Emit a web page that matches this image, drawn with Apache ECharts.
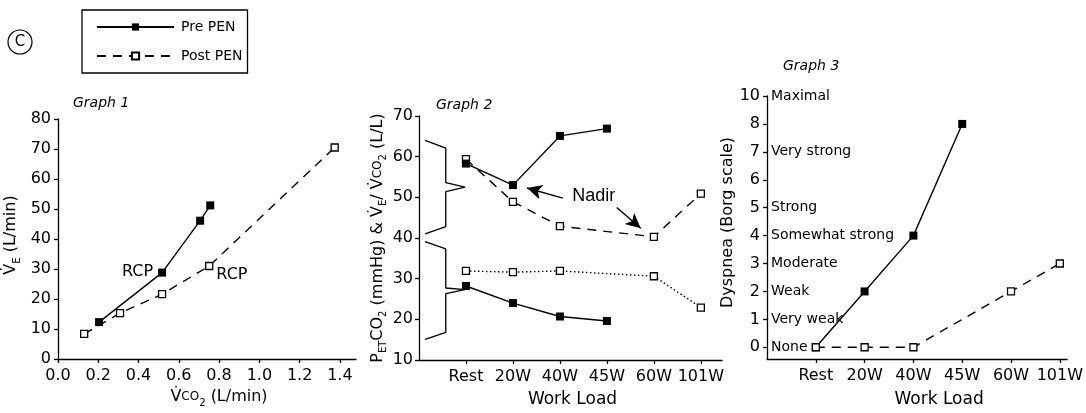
<!DOCTYPE html>
<html>
<head>
<meta charset="utf-8">
<script src="https://cdn.jsdelivr.net/npm/echarts@6/dist/echarts.min.js"></script>
<style>
  html, body { margin: 0; padding: 0; background: #fff; }
  #main { width: 1086px; height: 413px; }
</style>
</head>
<body>
<div id="main"></div>
<script>
// graph 1: VE against VCO2
var g1PreX = [0.204, 0.517, 0.706, 0.756];
var g1PreY = [12.3, 28.8, 46.1, 51.2];
var g1PostX = [0.130, 0.308, 0.517, 0.751, 1.374];
var g1PostY = [8.4, 15.3, 21.6, 31.0, 70.5];
var g1XTicks = [0, 0.2, 0.4, 0.6, 0.8, 1.0, 1.2, 1.4];

// graph 2 / 3: work loads
var loads = ['Rest', '20W', '40W', '45W', '60W', '101W'];
var preLoads = [0, 1, 2, 3];
var postLoads = [0, 1, 2, 4, 5];
var g2PreVent = [58.3, 53.0, 65.1, 66.9];
var g2PostVent = [59.4, 48.9, 42.9, 40.3, 50.9];
var g2PrePet = [28.2, 24.0, 20.7, 19.6];
var g2PostPet = [31.9, 31.6, 31.9, 30.6, 22.9];

// graph 3: borg scale (position 9 carries the "10" mark)
var g3Pre = [0, 2, 4, 8];
var g3Post = [0, 0, 0, 2, 3];
var borgTickPos = [0, 1, 2, 3, 4, 5, 6, 7, 8, 9];
var borgTickText = ['0', '1', '2', '3', '4', '5', '6', '7', '8', '10'];
var borgWordPos = [0, 1, 2, 3, 4, 5, 7, 9];
var borgWords = ['None', 'Very weak', 'Weak', 'Moderate', 'Somewhat strong', 'Strong', 'Very strong', 'Maximal'];

// annotations of graph 2 (data coords)
var braceUpper = [[0.13, 64.0], [0.57, 62.1], [0.57, 53.6], [0.98, 52.5], [0.57, 51.4], [0.57, 42.8], [0.13, 41.0]];
var braceLower = [[0.13, 39.1], [0.57, 37.3], [0.57, 27.7], [0.98, 27.3], [0.57, 26.3], [0.57, 16.8], [0.13, 15.1]];
var nadirArrows = [[[3.06, 49.8], [2.30, 52.3]], [[4.21, 47.5], [4.72, 42.4]]];
var nadirText = [3.72, 50.3];

var FONT = 'DejaVu Sans';
var chart = echarts.init(document.getElementById('main'));

function zip(xs, ys) { return xs.map(function (x, i) { return [x, ys[i]]; }); }
function onLoads(idx, ys) { return idx.map(function (k, i) { return [k + 1, ys[i]]; }); }

var rich = {
  a: { fontSize: 16, fontFamily: FONT, lineHeight: 22, color: '#000' },
  c: { fontSize: 12, fontFamily: FONT, lineHeight: 22, color: '#000' },
  s: { fontSize: 10, fontFamily: FONT, verticalAlign: 'bottom', color: '#000' }
};

var axisLine = { onZero: false, lineStyle: { color: '#000', width: 1.3 } };
var axisTick = { show: true, length: 4, lineStyle: { color: '#000', width: 1.3 } };

var preLine = { color: '#000', width: 1.4, type: 'solid' };
var postLine = { color: '#000', width: 1.4, type: [9, 7] };
var dotLine = { color: '#000', width: 1.4, type: [1.5, 2.5] };
var preSym = { symbol: 'rect', symbolSize: 8, itemStyle: { color: '#000' } };
var postSym = { symbol: 'rect', symbolSize: 7, itemStyle: { color: '#fff', borderColor: '#000', borderWidth: 1.3 } };

function ser(name, x, y, data, line, sym, extra) {
  var s = {
    name: name, type: 'line', xAxisIndex: x, yAxisIndex: y, data: data,
    lineStyle: line, symbol: sym.symbol, symbolSize: sym.symbolSize, itemStyle: sym.itemStyle,
    showAllSymbol: true, z: 3
  };
  for (var k in extra || {}) s[k] = extra[k];
  return s;
}

var g1Post = zip(g1PostX, g1PostY);
g1Post[3] = { value: g1Post[3], label: { show: true, position: 'right', offset: [-2, 9], formatter: 'RCP', color: '#000', fontSize: 16, fontFamily: FONT } };
var g1Pre = zip(g1PreX, g1PreY);
g1Pre[1] = { value: g1Pre[1], label: { show: true, position: 'left', offset: [0, -1], formatter: 'RCP', color: '#000', fontSize: 16, fontFamily: FONT } };

var titleStyle = { fontSize: 14, fontStyle: 'italic', fontWeight: 'normal', fontFamily: FONT, color: '#000' };

var option = {
  animation: false,
  backgroundColor: '#fff',
  title: [
    { text: 'Graph 1', left: 68, top: 91, textStyle: titleStyle },
    { text: 'Graph 2', left: 431, top: 93, textStyle: titleStyle },
    { text: 'Graph 3', left: 778, top: 54, textStyle: titleStyle }
  ],
  legend: {
    data: ['Pre PEN', 'Post PEN'],
    orient: 'vertical',
    left: 82, top: 10,
    itemWidth: 77, itemHeight: 9, itemGap: 15,
    padding: [10, 5, 10, 14],
    borderColor: '#000', borderWidth: 1.3,
    textStyle: { color: '#000', fontSize: 14, fontFamily: FONT, padding: [0, 0, 0, 2] }
  },
  graphic: [
    { type: 'circle', shape: { cx: 20, cy: 42, r: 12 }, style: { fill: 'none', stroke: '#000', lineWidth: 1.2 } },
    { type: 'text', x: 20, y: 42, style: { text: 'C', fill: '#000', font: '15px "DejaVu Sans"', align: 'center', verticalAlign: 'middle' } }
  ],
  grid: [
    { left: 58, top: 119, width: 298, height: 241 },
    { left: 419, top: 116, width: 303, height: 246.7 },
    { left: 767, top: 96, width: 306, height: 266.7 }
  ],
  xAxis: [
    {
      gridIndex: 0, type: 'value', min: 0, max: 1.48,
      axisLine: axisLine, axisTick: { show: true, length: 4, lineStyle: { color: '#000', width: 1.3 }, customValues: g1XTicks },
      splitLine: { show: false },
      axisLabel: { color: '#000', fontSize: 16, fontFamily: FONT, margin: 9, customValues: g1XTicks, formatter: function (v) { return v.toFixed(1); } },
      name: '{a|V\u0307}{c|CO}{s|2}{a| (L/min)}', nameLocation: 'middle', nameGap: 27,
      nameTextStyle: { rich: rich, padding: [0, 0, 0, 24] }
    },
    {
      gridIndex: 1, type: 'value', min: 0, max: 6.45,
      axisLine: axisLine, axisTick: { show: true, length: 4, lineStyle: { color: '#000', width: 1.3 }, customValues: [1, 2, 3, 4, 5, 6] },
      splitLine: { show: false },
      axisLabel: { color: '#000', fontSize: 16, fontFamily: FONT, margin: 9, customValues: [1, 2, 3, 4, 5, 6], formatter: function (v) { return loads[Math.round(v) - 1]; } },
      name: 'Work Load', nameLocation: 'middle', nameGap: 31,
      nameTextStyle: { color: '#000', fontSize: 17, fontFamily: FONT, padding: [0, 0, 0, 4] }
    },
    {
      gridIndex: 2, type: 'value', min: 0, max: 6.15,
      axisLine: axisLine, axisTick: { show: true, length: 4, lineStyle: { color: '#000', width: 1.3 }, customValues: [1, 2, 3, 4, 5, 6] },
      splitLine: { show: false },
      axisLabel: { color: '#000', fontSize: 16, fontFamily: FONT, margin: 9, customValues: [1, 2, 3, 4, 5, 6], formatter: function (v) { return loads[Math.round(v) - 1]; } },
      name: 'Work Load', nameLocation: 'middle', nameGap: 32,
      nameTextStyle: { color: '#000', fontSize: 17, fontFamily: FONT, padding: [0, 0, 0, 44] }
    }
  ],
  yAxis: [
    {
      gridIndex: 0, type: 'value', min: 0, max: 80, interval: 10,
      axisLine: axisLine, axisTick: axisTick,
      splitLine: { show: false },
      axisLabel: { color: '#000', fontSize: 16, fontFamily: FONT, margin: 7 },
      name: '{a|V\u0307}{s|E}{a| (L/min)}', nameLocation: 'middle', nameGap: 36,
      nameTextStyle: { rich: rich, padding: [0, 0, 0, 8] }
    },
    {
      gridIndex: 1, type: 'value', min: 10, max: 70, interval: 10,
      axisLine: axisLine, axisTick: axisTick,
      splitLine: { show: false },
      axisLabel: { color: '#000', fontSize: 16, fontFamily: FONT, margin: 6 },
      name: '{a|P}{s|ET}{a|CO}{s|2}{a| (mmHg) & V\u0307}{s|E}{a|/ V\u0307}{c|CO}{s|2}{a| (L/L)}', nameLocation: 'middle', nameGap: 25,
      nameTextStyle: { rich: rich }
    },
    {
      gridIndex: 2, type: 'value', min: -0.42, max: 9,
      axisLine: axisLine,
      axisTick: { show: true, length: 4, lineStyle: { color: '#000', width: 1.3 }, customValues: borgTickPos },
      splitLine: { show: false },
      axisLabel: { color: '#000', fontSize: 16, fontFamily: FONT, margin: 7, customValues: borgTickPos, formatter: function (v) { return borgTickText[borgTickPos.indexOf(Math.round(v))]; } },
      name: 'Dyspnea (Borg scale)', nameLocation: 'middle', nameGap: 27,
      nameTextStyle: { color: '#000', fontSize: 16, fontFamily: FONT, padding: [0, 0, 0, 10] }
    },
    {
      gridIndex: 2, type: 'value', min: -0.42, max: 9, position: 'left',
      axisLine: { show: false }, axisTick: { show: false }, splitLine: { show: false },
      axisLabel: { inside: true, margin: 4, color: '#000', fontSize: 14, fontFamily: FONT, customValues: borgWordPos, formatter: function (v) { return borgWords[borgWordPos.indexOf(Math.round(v))]; } }
    }
  ],
  series: [
    ser('Pre PEN', 0, 0, g1Pre, preLine, preSym),
    ser('Post PEN', 0, 0, g1Post, postLine, postSym),

    { type: 'line', xAxisIndex: 1, yAxisIndex: 1, data: braceUpper, symbol: 'none', silent: true, lineStyle: { color: '#000', width: 1.3 }, z: 2 },
    { type: 'line', xAxisIndex: 1, yAxisIndex: 1, data: braceLower, symbol: 'none', silent: true, lineStyle: { color: '#000', width: 1.3 }, z: 2 },
    ser('Post PEN', 1, 1, onLoads(postLoads, g2PostVent), postLine, postSym),
    ser('Pre PEN', 1, 1, onLoads(preLoads, g2PreVent), preLine, preSym, {
      markLine: {
        silent: true, symbol: ['none', 'arrow'], symbolSize: [11, 15],
        label: { show: false },
        lineStyle: { color: '#000', width: 1.5, type: 'solid' },
        data: nadirArrows.map(function (a) { return [{ coord: a[0] }, { coord: a[1] }]; })
      }
    }),
    ser('Post PEN', 1, 1, onLoads(postLoads, g2PostPet), dotLine, postSym),
    ser('Pre PEN', 1, 1, onLoads(preLoads, g2PrePet), preLine, preSym),
    {
      type: 'scatter', xAxisIndex: 1, yAxisIndex: 1, data: [nadirText], symbolSize: 0, silent: true,
      itemStyle: { opacity: 1 },
      label: { show: true, position: 'inside', formatter: 'Nadir', color: '#000', opacity: 1, fontSize: 18, fontFamily: 'Liberation Sans' }
    },

    ser('Pre PEN', 2, 2, onLoads(preLoads, g3Pre), preLine, preSym),
    ser('Post PEN', 2, 2, onLoads(postLoads, g3Post), postLine, postSym)
  ]
};

chart.setOption(option);
</script>
</body>
</html>
